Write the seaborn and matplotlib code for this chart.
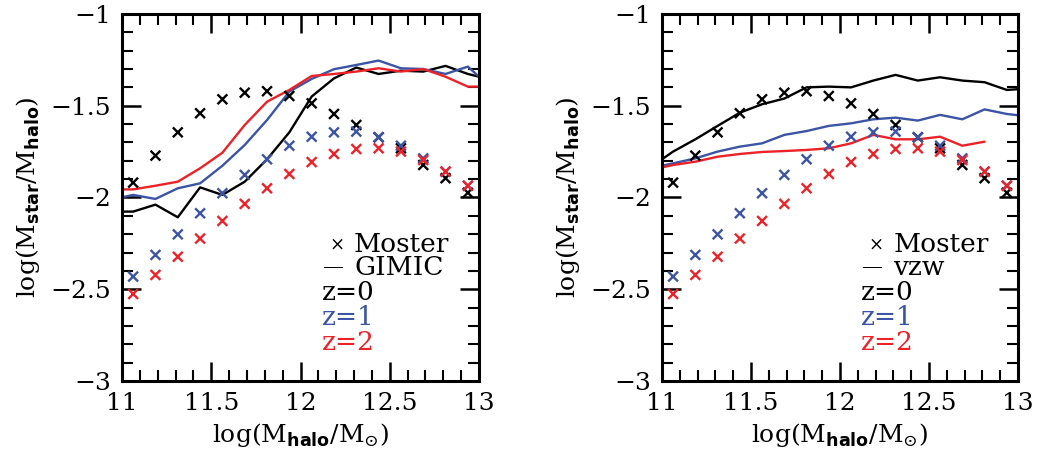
import numpy as np
import pandas as pd
import seaborn as sns
import matplotlib.pyplot as plt
from matplotlib.ticker import MultipleLocator

# --- data ---
mhalo = [11.0625, 11.1875, 11.3125, 11.4375, 11.5625, 11.6875, 11.8125, 11.9375,
         12.0625, 12.1875, 12.3125, 12.4375, 12.5625, 12.6875, 12.8125, 12.9375]

moster_z0 = [-1.919, -1.772, -1.645, -1.541, -1.465, -1.429, -1.421, -1.447,
             -1.487, -1.545, -1.605, -1.672, -1.732, -1.823, -1.895, -1.974]
moster_z1 = [-2.431, -2.313, -2.201, -2.086, -1.977, -1.877, -1.792, -1.718,
             -1.669, -1.645, -1.641, -1.672, -1.718, -1.787, -1.859, -1.936]
moster_z2 = [-2.526, -2.422, -2.323, -2.224, -2.128, -2.035, -1.950, -1.872,
             -1.807, -1.763, -1.736, -1.732, -1.750, -1.796, -1.859, -1.936]

sim_mhalo = [11.0, 11.0625, 11.1875, 11.3125, 11.4375, 11.5625, 11.6875, 11.8125, 11.9375,
             12.0625, 12.1875, 12.3125, 12.4375, 12.5625, 12.6875, 12.8125, 12.9375, 13.0]

gimic_z0 = [-2.077, -2.077, -2.039, -2.108, -1.945, -1.986, -1.914, -1.792, -1.645,
            -1.450, -1.351, -1.292, -1.327, -1.309, -1.314, -1.283, -1.327, -1.342]
gimic_z1 = [-1.999, -1.986, -2.008, -1.950, -1.923, -1.827, -1.714, -1.578, -1.423,
            -1.354, -1.301, -1.278, -1.254, -1.296, -1.300, -1.327, -1.287, -1.342]
gimic_z2 = [-1.956, -1.956, -1.936, -1.914, -1.841, -1.756, -1.605, -1.478, -1.414,
            -1.338, -1.327, -1.314, -1.296, -1.314, -1.300, -1.342, -1.396, -1.396]

vzw_z0 = [-1.792, -1.750, -1.683, -1.610, -1.538, -1.492, -1.461, -1.400, -1.396,
          -1.400, -1.363, -1.332, -1.363, -1.345, -1.363, -1.372, -1.414, -1.410]
vzw_z1 = [-1.827, -1.814, -1.787, -1.750, -1.723, -1.705, -1.659, -1.638, -1.610,
          -1.596, -1.574, -1.565, -1.581, -1.550, -1.574, -1.520, -1.545, -1.552]
# vzw z=2 stops at 12.8125
vzw_z2 = [-1.836, -1.823, -1.805, -1.778, -1.763, -1.752, -1.747, -1.741, -1.732,
          -1.705, -1.659, -1.683, -1.683, -1.669, -1.718, -1.696]

redshifts = ['z=0', 'z=1', 'z=2']
colors = {'z=0': 'black', 'z=1': '#3b54a5', 'z=2': '#ec2228'}

# --- long-form tables ---
moster = pd.DataFrame({
    'mhalo': mhalo * 3,
    'ratio': moster_z0 + moster_z1 + moster_z2,
    'z': ['z=0'] * 16 + ['z=1'] * 16 + ['z=2'] * 16,
})

def sim_frame(y0, y1, y2):
    return pd.DataFrame({
        'mhalo': sim_mhalo + sim_mhalo + sim_mhalo[:len(y2)],
        'ratio': y0 + y1 + y2,
        'z': ['z=0'] * len(y0) + ['z=1'] * len(y1) + ['z=2'] * len(y2),
    })

gimic = sim_frame(gimic_z0, gimic_z1, gimic_z2)
vzw = sim_frame(vzw_z0, vzw_z1, vzw_z2)

# --- style ---
sns.set_style('ticks')
plt.rcParams['font.family'] = ['DejaVu Serif']
plt.rcParams['mathtext.fontset'] = 'custom'
plt.rcParams['mathtext.rm'] = 'DejaVu Serif'
plt.rcParams['mathtext.bf'] = 'DejaVu Sans:bold'
plt.rcParams['axes.linewidth'] = 2.2
plt.rcParams['axes.edgecolor'] = 'black'
plt.rcParams['axes.labelcolor'] = 'black'
plt.rcParams['text.color'] = 'black'
plt.rcParams['xtick.color'] = 'black'
plt.rcParams['ytick.color'] = 'black'

fig = plt.figure(figsize=(10.4, 4.7), dpi=100)
ax1 = fig.add_axes([0.1173, 0.1894, 0.3433, 0.7809])
ax2 = fig.add_axes([0.6365, 0.1894, 0.3423, 0.7809])

panels = [(ax1, gimic, 'GIMIC'), (ax2, vzw, 'vzw')]
for ax, sim, name in panels:
    sns.lineplot(data=sim, x='mhalo', y='ratio', hue='z', palette=colors,
                 hue_order=redshifts, linewidth=1.7, legend=False, ax=ax,
                 estimator=None, sort=False)
    sns.scatterplot(data=moster, x='mhalo', y='ratio', hue='z', palette=colors,
                    hue_order=redshifts, marker='x', s=50, linewidth=1.7,
                    legend=False, ax=ax, zorder=3)

    ax.set_xlim(11, 13)
    ax.set_ylim(-3, -1)
    ax.xaxis.set_minor_locator(MultipleLocator(0.1))
    ax.yaxis.set_minor_locator(MultipleLocator(0.1))
    ax.tick_params(which='both', direction='in', top=True, right=True,
                   labelsize=18)
    ax.tick_params(which='major', length=14, width=1.8, pad=8)
    ax.tick_params(which='minor', length=8, width=1.5)
    ax.set_xticks([11, 11.5, 12, 12.5, 13])
    ax.set_xticklabels(['11', '11.5', '12', '12.5', '13'])
    ax.set_yticks([-1, -1.5, -2, -2.5, -3])
    ax.set_yticklabels(['\u22121', '\u22121.5', '\u22122', '\u22122.5', '\u22123'])

    ax.set_xlabel(r'log(M$_{\mathbf{halo}}$/M$_{\odot}$)', fontsize=18, labelpad=4)
    ax.set_ylabel(r'log(M$_{\mathbf{star}}$/M$_{\mathbf{halo}}$)', fontsize=18, labelpad=6)

    # hand-written key
    ax.text(0.58, 0.372, '\u00d7', transform=ax.transAxes, fontsize=13,
            ha='left', va='center')
    ax.text(0.65, 0.372, 'Moster', transform=ax.transAxes, fontsize=19,
            ha='left', va='center')
    ax.text(0.56, 0.308, '\u2014', transform=ax.transAxes, fontsize=15,
            ha='left', va='center')
    ax.text(0.65, 0.308, name, transform=ax.transAxes, fontsize=19,
            ha='left', va='center')
    for i, z in enumerate(redshifts):
        ax.text(0.56, 0.240 - 0.068 * i, z, transform=ax.transAxes,
                fontsize=19, ha='left', va='center', color=colors[z])

plt.savefig('out.png', dpi=100)
